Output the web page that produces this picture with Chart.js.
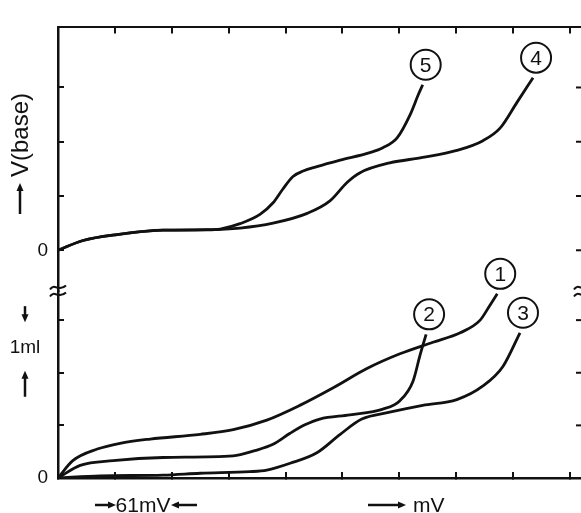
<!DOCTYPE html>
<html>
<head>
<meta charset="utf-8">
<script src="https://cdn.jsdelivr.net/npm/chart.js@4.4.1/dist/chart.umd.min.js"></script>
<style>
  html, body { margin: 0; padding: 0; background: #fff; overflow: hidden; }
  #wrap { width: 585px; height: 513px; position: relative; }
</style>
</head>
<body>
<div id="wrap"><canvas id="chart"></canvas></div>
<script>
// tick positions (no numbers printed except the two zeros)
const xTicks = [0, 1, 2, 3, 4, 5, 6, 7, 8, 9];
const upperTicks = [0, 1, 2, 3];
const lowerTicks = [0, 1, 2, 3];

// lower panel, curves 1-3
const curve1X = [0, 0.26, 0.69, 1.09, 1.62, 2.50, 3.08, 3.67, 4.25, 4.83, 5.43, 6.01, 6.59, 7.07, 7.42, 7.59, 7.72];
const curve1Y = [0, 0.33, 0.55, 0.66, 0.74, 0.83, 0.92, 1.10, 1.38, 1.71, 2.08, 2.36, 2.58, 2.76, 3.00, 3.28, 3.50];
const curve2X = [0, 0.39, 0.97, 1.85, 3.08, 3.46, 3.78, 4.08, 4.34, 4.60, 5.13, 5.71, 6.01, 6.24, 6.36, 6.47];
const curve2Y = [0, 0.24, 0.33, 0.39, 0.42, 0.52, 0.64, 0.85, 1.01, 1.12, 1.20, 1.31, 1.47, 1.84, 2.32, 2.73];
const curve3X = [0, 0.74, 1.85, 2.50, 3.37, 3.67, 4.08, 4.55, 4.96, 5.34, 5.83, 6.41, 7.01, 7.47, 7.82, 8.12];
const curve3Y = [0, 0.04, 0.055, 0.09, 0.12, 0.15, 0.28, 0.48, 0.83, 1.12, 1.25, 1.38, 1.49, 1.75, 2.12, 2.76];

// upper panel, curves 4-5
const curve4X = [0, 0.44, 1.04, 1.85, 2.62, 3.20, 3.78, 4.38, 4.78, 5.08, 5.31, 5.83, 6.41, 7.01, 7.47, 7.77, 8.07, 8.35];
const curve4Y = [0, 0.18, 0.29, 0.37, 0.38, 0.41, 0.50, 0.68, 0.91, 1.25, 1.43, 1.61, 1.71, 1.84, 2.02, 2.25, 2.73, 3.18];
const curve5X = [0, 0.44, 1.04, 1.85, 2.62, 2.85, 3.20, 3.55, 3.78, 3.95, 4.13, 4.31, 4.55, 4.96, 5.48, 5.71, 5.96, 6.19, 6.33, 6.41];
const curve5Y = [0, 0.18, 0.29, 0.37, 0.375, 0.39, 0.49, 0.66, 0.875, 1.125, 1.36, 1.46, 1.54, 1.66, 1.80, 1.89, 2.07, 2.50, 2.86, 3.05];

const ink = '#111';
const font = '"Liberation Sans", Arial, sans-serif';

const pts = (xs, ys) => xs.map((x, i) => ({ x: x, y: ys[i] }));

function arrow(ctx, x1, y1, x2, y2) {
    const a = Math.atan2(y2 - y1, x2 - x1);
    ctx.beginPath();
    ctx.moveTo(x1, y1);
    ctx.lineTo(x2 - 6 * Math.cos(a), y2 - 6 * Math.sin(a));
    ctx.stroke();
    ctx.beginPath();
    ctx.moveTo(x2, y2);
    ctx.lineTo(x2 - 8 * Math.cos(a) + 3.5 * Math.sin(a), y2 - 8 * Math.sin(a) - 3.5 * Math.cos(a));
    ctx.lineTo(x2 - 8 * Math.cos(a) - 3.5 * Math.sin(a), y2 - 8 * Math.sin(a) + 3.5 * Math.cos(a));
    ctx.closePath();
    ctx.fill();
}

function axisBreak(ctx, x, y) {
    ctx.beginPath();
    [-3.5, 3.5].forEach(d => {
        ctx.moveTo(x - 8, y + d + 2);
        ctx.bezierCurveTo(x - 4, y + d - 5, x + 1, y + d + 5, x + 8, y + d - 2);
    });
    ctx.lineWidth = 2;
    ctx.stroke();
}

const extras = {
    id: 'extras',
    afterDraw(chart) {
        const { ctx, chartArea, scales } = chart;
        ctx.save();
        ctx.strokeStyle = ink;
        ctx.fillStyle = ink;

        // inward ticks on the right edge
        ctx.lineWidth = 2;
        [['yHigh', upperTicks], ['yLow', lowerTicks]].forEach(([id, vals]) => {
            vals.forEach(v => {
                const y = scales[id].getPixelForValue(v);
                ctx.beginPath();
                ctx.moveTo(chartArea.right - 6, y);
                ctx.lineTo(chartArea.right, y);
                ctx.stroke();
            });
        });

        // axis breaks between the two panels
        const yb = scales.yHigh.bottom;
        axisBreak(ctx, chartArea.left, yb);
        axisBreak(ctx, chartArea.right, yb);

        // circled curve numbers
        chart.data.datasets.forEach((ds, i) => {
            const meta = chart.getDatasetMeta(i).data;
            const end = meta[meta.length - 1];
            const cx = end.x + 3, cy = end.y - 20;
            ctx.beginPath();
            ctx.arc(cx, cy, 15, 0, Math.PI * 2);
            ctx.fillStyle = '#fff';
            ctx.fill();
            ctx.lineWidth = 2;
            ctx.stroke();
            ctx.fillStyle = ink;
            ctx.font = '21px ' + font;
            ctx.textAlign = 'center';
            ctx.textBaseline = 'middle';
            ctx.fillText(ds.label, cx, cy + 1);
        });

        // y labels
        ctx.lineWidth = 2.5;
        ctx.font = '24px ' + font;
        ctx.textAlign = 'center';
        ctx.textBaseline = 'middle';
        ctx.save();
        ctx.translate(21, 135);
        ctx.rotate(-Math.PI / 2);
        ctx.fillText('V(base)', 0, 0);
        ctx.restore();
        arrow(ctx, 20, 214, 20, 183);

        const y3 = scales.yLow.getPixelForValue(3);
        const y2 = scales.yLow.getPixelForValue(2);
        ctx.font = '19px ' + font;
        ctx.fillText('1ml', 25, (y2 + y3) / 2 + 1);
        arrow(ctx, 25, y3 - 14, 25, y3 + 2);
        arrow(ctx, 25, y2 + 24, 25, y2 - 2);

        // x labels
        ctx.font = '21px ' + font;
        ctx.fillText('61mV', 143, 506);
        arrow(ctx, 95, 505, 116, 505);
        arrow(ctx, 197, 505, 171, 505);
        ctx.textAlign = 'left';
        ctx.fillText('mV', 413, 506);
        arrow(ctx, 368, 505, 406, 505);

        ctx.restore();
    }
};

const xAxis = (pos, h) => ({
    type: 'linear',
    position: pos,
    min: 0,
    max: 9.21,
    afterBuildTicks: s => { s.ticks = xTicks.map(v => ({ value: v })); },
    afterFit: s => { s.height = h; },
    ticks: { display: false },
    grid: { drawOnChartArea: false, tickLength: -6, color: ink, lineWidth: 2 },
    border: { color: ink, width: pos === 'top' ? 2 : 2.5 }
});

const yAxis = (weight, min, max, vals) => ({
    type: 'linear',
    position: 'left',
    stack: 'panels',
    stackWeight: weight,
    min: min,
    max: max,
    afterBuildTicks: s => { s.ticks = vals.map(v => ({ value: v })); },
    afterFit: s => { s.width = 58; },
    ticks: {
        padding: 16,
        color: ink,
        font: { family: font, size: 19 },
        callback: v => (v === 0 ? '0' : '')
    },
    grid: { drawOnChartArea: false, tickLength: -6, color: ink, lineWidth: 2 },
    border: { color: ink, width: 2.5 }
});

new Chart(document.getElementById('chart'), {
    type: 'line',
    data: {
        datasets: [
            { label: '1', data: pts(curve1X, curve1Y), yAxisID: 'yLow' },
            { label: '2', data: pts(curve2X, curve2Y), yAxisID: 'yLow' },
            { label: '3', data: pts(curve3X, curve3Y), yAxisID: 'yLow' },
            { label: '4', data: pts(curve4X, curve4Y), yAxisID: 'yHigh' },
            { label: '5', data: pts(curve5X, curve5Y), yAxisID: 'yHigh' }
        ]
    },
    options: {
        responsive: true,
        maintainAspectRatio: false,
        animation: false,
        layout: { padding: { right: 3 } },
        plugins: { legend: { display: false }, tooltip: { enabled: false } },
        elements: {
            point: { radius: 0 },
            line: { borderWidth: 2.8, borderColor: ink, cubicInterpolationMode: 'monotone', fill: false }
        },
        scales: {
            x: xAxis('bottom', 35),
            x2: xAxis('top', 13),
            yLow: yAxis(193, 0, 3.554, lowerTicks),
            yHigh: yAxis(272, -0.75, 4.107, upperTicks)
        }
    },
    plugins: [extras]
});
</script>
</body>
</html>
